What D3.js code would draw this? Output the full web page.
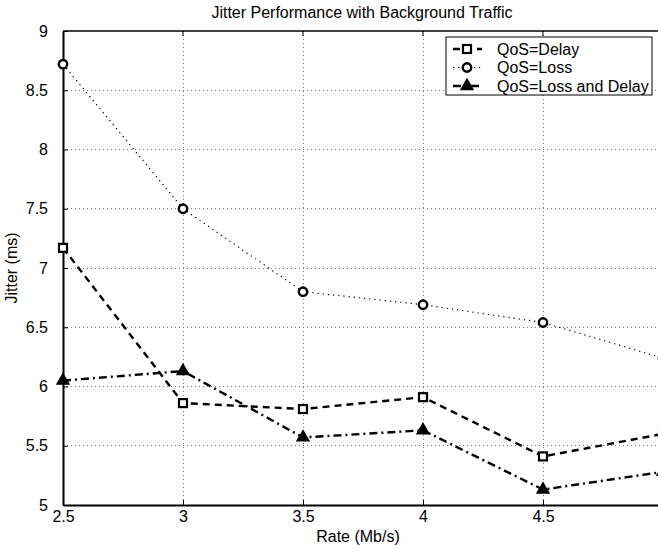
<!DOCTYPE html>
<html>
<head>
<meta charset="utf-8">
<script src="https://cdn.jsdelivr.net/npm/d3@7/dist/d3.min.js"></script>
<style>
  html, body { margin: 0; padding: 0; background: #fff; }
  svg { display: block; font-family: "Liberation Sans", Arial, Helvetica, sans-serif; }
</style>
</head>
<body>
<svg id="chart" width="658" height="552"></svg>
<script>
// Rates (Mb/s) and jitter (ms) for each QoS setting
const rates = [2.5, 3, 3.5, 4, 4.5, 5];
const jitterDelay = [7.17, 5.86, 5.81, 5.91, 5.41, 5.60];
const jitterLoss = [8.72, 7.50, 6.80, 6.69, 6.54, 6.24];
const jitterLossDelay = [6.05, 6.13, 5.57, 5.63, 5.13, 5.28];
const seriesNames = ["QoS=Delay", "QoS=Loss", "QoS=Loss and Delay"];
const xTicks = [2.5, 3, 3.5, 4, 4.5];
const yTicks = [5, 5.5, 6, 6.5, 7, 7.5, 8, 8.5, 9];

const svg = d3.select("#chart");
const W = 658, H = 552;
const m = { left: 63, top: 31, right: 663, bottom: 505 };
const FS = 16;

const x = d3.scaleLinear().domain([2.5, 5]).range([m.left, m.right]);
const y = d3.scaleLinear().domain([5, 9]).range([m.bottom, m.top]);

svg.append("defs").append("clipPath").attr("id", "plotClip")
  .append("rect").attr("x", m.left - 8).attr("y", m.top - 8)
  .attr("width", m.right - m.left + 16).attr("height", m.bottom - m.top + 16);

// Grid
const grid = svg.append("g").attr("stroke", "#777").attr("stroke-width", 1)
  .attr("stroke-dasharray", "1,3").attr("shape-rendering", "crispEdges");
xTicks.slice(1).forEach(t => {
  grid.append("line").attr("x1", x(t)).attr("x2", x(t)).attr("y1", m.top).attr("y2", m.bottom);
});
yTicks.slice(1, -1).forEach(t => {
  grid.append("line").attr("x1", m.left).attr("x2", W).attr("y1", y(t)).attr("y2", y(t));
});

// Axes
const xAxis = d3.axisBottom(x).tickValues(xTicks).tickSizeInner(-5).tickSizeOuter(0).tickPadding(9)
  .tickFormat(d3.format("~g"));
const yAxis = d3.axisLeft(y).tickValues(yTicks).tickSizeInner(-5).tickSizeOuter(0).tickPadding(15)
  .tickFormat(d3.format("~g"));

const gx = svg.append("g").attr("transform", `translate(0,${m.bottom})`).call(xAxis);
const gy = svg.append("g").attr("transform", `translate(${m.left},0)`).call(yAxis);
[gx, gy].forEach(g => {
  g.selectAll("path").attr("stroke", "#000").attr("stroke-width", 2);
  g.selectAll("line").attr("stroke", "#000").attr("stroke-width", 1);
  g.selectAll("text").attr("fill", "#000").attr("font-size", FS)
    .attr("font-family", "Liberation Sans, Arial, sans-serif");
});
gx.selectAll("text").attr("dy", "0.5em");
// top frame line
svg.append("line").attr("x1", m.left).attr("x2", W).attr("y1", m.top).attr("y2", m.top)
  .attr("stroke", "#000").attr("stroke-width", 1.5);
// top tick marks
xTicks.slice(1).forEach(t => {
  svg.append("line").attr("x1", x(t)).attr("x2", x(t)).attr("y1", m.top).attr("y2", m.top + 5)
    .attr("stroke", "#000");
});

// Labels
svg.append("text").attr("x", 362).attr("y", 18).attr("text-anchor", "middle")
  .attr("font-size", FS).text("Jitter Performance with Background Traffic");
svg.append("text").attr("x", 358).attr("y", 542).attr("text-anchor", "middle")
  .attr("font-size", FS).text("Rate (Mb/s)");
svg.append("text").attr("transform", `translate(17,${(m.top + m.bottom) / 2}) rotate(-90)`)
  .attr("text-anchor", "middle").attr("font-size", FS).text("Jitter (ms)");

const line = d3.line().x((d, i) => x(rates[i])).y(d => y(d));
const plot = svg.append("g").attr("clip-path", "url(#plotClip)");

const styles = [
  { data: jitterDelay, dash: "7,5", width: 2.4, marker: "square" },
  { data: jitterLoss, dash: "1.2,4", width: 1.2, marker: "circle" },
  { data: jitterLossDelay, dash: "8,4,2,4", width: 2.4, marker: "triangle" }
];

function drawMarker(g, kind, cx, cy) {
  if (kind === "square") {
    g.append("rect").attr("x", cx - 4).attr("y", cy - 4).attr("width", 8).attr("height", 8)
      .attr("fill", "#fff").attr("stroke", "#000").attr("stroke-width", 2.2);
  } else if (kind === "circle") {
    g.append("circle").attr("cx", cx).attr("cy", cy).attr("r", 4.2)
      .attr("fill", "#fff").attr("stroke", "#000").attr("stroke-width", 2.4);
  } else {
    g.append("path")
      .attr("d", d3.symbol().type(d3.symbolTriangle).size(60)())
      .attr("transform", `translate(${cx},${cy})`)
      .attr("fill", "#000").attr("stroke", "#000").attr("stroke-width", 1.5);
  }
}

styles.forEach(s => {
  plot.append("path").datum(s.data).attr("d", line).attr("fill", "none")
    .attr("stroke", "#000").attr("stroke-width", s.width).attr("stroke-dasharray", s.dash);
  s.data.forEach((v, i) => drawMarker(plot, s.marker, x(rates[i]), y(v)));
});

// Legend
const lg = svg.append("g");
lg.append("rect").attr("x", 446).attr("y", 37).attr("width", 206).attr("height", 58)
  .attr("fill", "#fff").attr("stroke", "#000").attr("stroke-width", 1);
styles.forEach((s, i) => {
  const ly = 49 + i * 18.5;
  lg.append("line").attr("x1", 453).attr("x2", 482).attr("y1", ly).attr("y2", ly)
    .attr("stroke", "#000").attr("stroke-width", s.width).attr("stroke-dasharray", s.dash);
  drawMarker(lg, s.marker, 467, ly);
  lg.append("text").attr("x", 497).attr("y", ly).attr("dy", "0.35em")
    .attr("font-size", FS).text(seriesNames[i]);
});
</script>
</body>
</html>
